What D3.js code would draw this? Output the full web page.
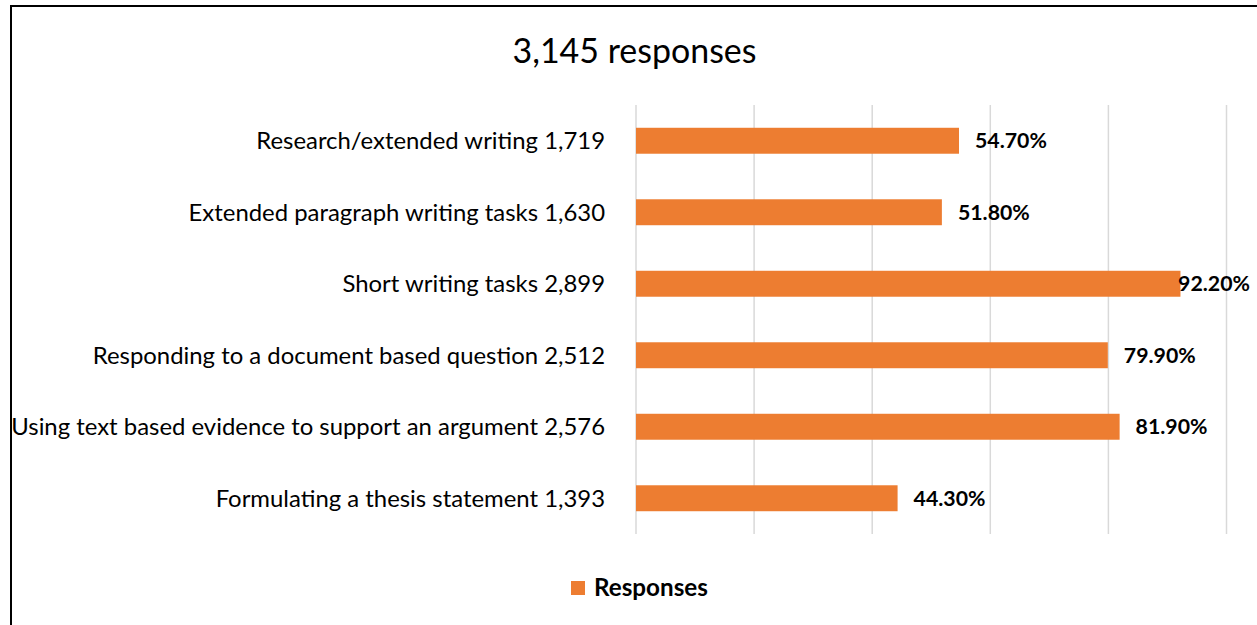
<!DOCTYPE html>
<html>
<head>
<meta charset="utf-8">
<script src="https://cdn.jsdelivr.net/npm/d3@7"></script>
<style>
  html, body { margin: 0; padding: 0; background: #fff; }
  svg { display: block; }
  text { font-family: Lato, "Open Sans", sans-serif; fill: #000; }
</style>
</head>
<body>
<svg id="chart" width="1257" height="625"></svg>
<script>
// ---- data ----
const title = "3,145 responses";
const categories = [
  "Research/extended writing",
  "Extended paragraph writing tasks",
  "Short writing tasks",
  "Responding to a document based question",
  "Using text based evidence to support an argument",
  "Formulating a thesis statement"
];
const counts = [1719, 1630, 2899, 2512, 2576, 1393];
const percents = [54.7, 51.8, 92.2, 79.9, 81.9, 44.3];
const ticks = [0, 20, 40, 60, 80, 100];
const seriesName = "Responses";

// ---- layout ----
const W = 1257, H = 625;
const plot = { left: 636, right: 1226.5, top: 105, bottom: 534 };
const orange = "#ED7D31";
const grid = "#D9D9D9";

const svg = d3.select("#chart");
const fmtCount = d3.format(",");
const fmtPct = v => d3.format(".2f")(v) + "%";

// helper: fit font size so that a sample text has a target width
function fitSize(sample, base, target, weight) {
  const t = svg.append("text").attr("font-size", base).attr("font-weight", weight || "normal").text(sample);
  const w = t.node().getComputedTextLength();
  t.remove();
  return base * target / w;
}

// border (frame, extending off the right/bottom edges)
svg.append("path")
  .attr("d", `M11,${H + 5} L11,6 L${W + 5},6`)
  .attr("fill", "none").attr("stroke", "#000").attr("stroke-width", 2);

const x = d3.scaleLinear().domain([0, 100]).range([plot.left, plot.right]);
const y = d3.scaleBand().domain(categories).range([plot.top, plot.bottom])
  .paddingInner(0.637).paddingOuter(0.3185);

// gridlines
svg.append("g").selectAll("line").data(ticks).join("line")
  .attr("x1", d => x(d)).attr("x2", d => x(d))
  .attr("y1", plot.top).attr("y2", plot.bottom)
  .attr("stroke", grid).attr("stroke-width", 1.5);

// title
const titleSize = fitSize(title, 30, 244);
svg.append("text").attr("x", 634.5).attr("y", 63)
  .attr("text-anchor", "middle").attr("font-size", titleSize).text(title);

// category labels
const labels = categories.map((c, i) => c + " " + fmtCount(counts[i]));
const longest = labels.reduce((a, b) => (a.length > b.length ? a : b));
const catSize = fitSize(longest, 20, 594);
svg.append("g").selectAll("text").data(categories).join("text")
  .attr("x", 605)
  .attr("y", d => y(d) + y.bandwidth() / 2)
  .attr("dy", "0.36em")
  .attr("text-anchor", "end")
  .attr("font-size", catSize)
  .text((d, i) => labels[i]);

// bars
svg.append("g").selectAll("rect").data(categories).join("rect")
  .attr("x", x(0))
  .attr("y", d => y(d))
  .attr("width", (d, i) => x(percents[i]) - x(0))
  .attr("height", y.bandwidth())
  .attr("fill", orange);

// value labels
const valSize = fitSize("54.70%", 18, 72, "bold");
const vg = svg.append("g");
categories.forEach((c, i) => {
  const t = vg.append("text")
    .attr("font-size", valSize).attr("font-weight", "bold")
    .attr("y", y(c) + y.bandwidth() / 2).attr("dy", "0.36em")
    .text(fmtPct(percents[i]));
  const w = t.node().getComputedTextLength();
  const lx = Math.min(x(percents[i]) + 16, 1250 - w);
  t.attr("x", lx);
});

// legend
svg.append("rect").attr("x", 571).attr("y", 581).attr("width", 14).attr("height", 14).attr("fill", orange);
const legSize = fitSize(seriesName, 20, 114, "bold");
svg.append("text").attr("x", 594).attr("y", 596)
  .attr("font-size", legSize).attr("font-weight", "bold").text(seriesName);
</script>
</body>
</html>
